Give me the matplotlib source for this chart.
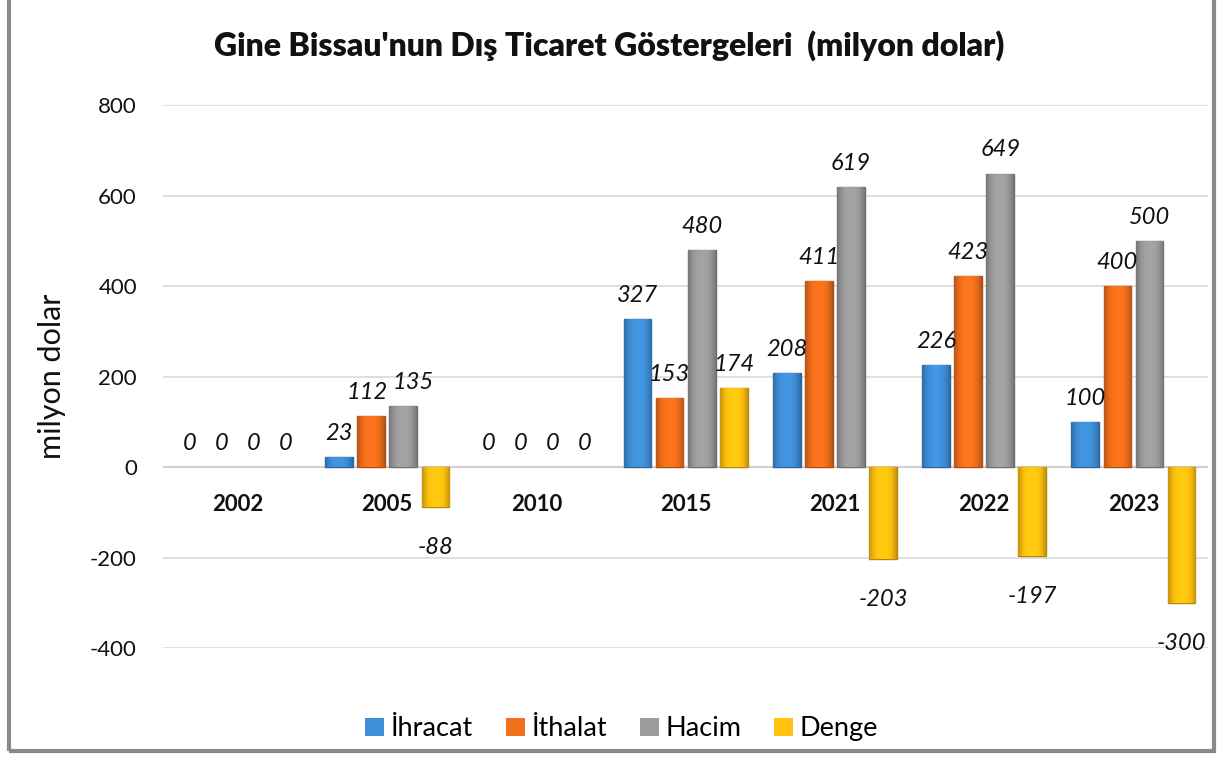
import numpy as np
import matplotlib
matplotlib.use("Agg")
import matplotlib.pyplot as plt
from matplotlib.patches import Rectangle
from matplotlib.colors import to_rgb


YEARS = ["2002", "2005", "2010", "2015", "2021", "2022", "2023"]
IHRACAT = [0, 23, 0, 327, 208, 226, 100]
ITHALAT = [0, 112, 0, 153, 411, 423, 400]
HACIM = [0, 135, 0, 480, 619, 649, 500]
DENGE = [0, -88, 0, 174, -203, -197, -300]

SERIES_NAMES = ["İhracat", "İthalat", "Hacim", "Denge"]
SERIES_COLORS = ["#3f8fd8", "#f26f1c", "#9c9c9c", "#ffc20e"]

TITLE = "Gine Bissau'nun Dış Ticaret Göstergeleri  (milyon dolar)"
FONT = ["Lato", "DejaVu Sans"]

BAR_WIDTH = 0.185
BAR_STEP = 0.215
# the reference pushes a few crowded labels sideways (points)
LABEL_NUDGE = {("İthalat", "2005"): -3, ("Hacim", "2005"): 7}

plt.rcParams["font.family"] = FONT
plt.rcParams["axes.unicode_minus"] = False


def shade(color, factor):
    rgb = np.array(to_rgb(color))
    if factor < 1:
        return tuple(rgb * factor)
    return tuple(rgb + (1 - rgb) * (factor - 1))


def bevel_bar(ax, bar, color):
    """Paint a soft horizontal gradient inside a bar to mimic the bevel look."""
    x0, y0 = bar.get_x(), bar.get_y()
    w, h = bar.get_width(), bar.get_height()
    if h == 0:
        return
    t = np.linspace(-1, 1, 64)
    profile = 1.0 - 0.28 * np.abs(t) ** 2.5
    base = np.array(to_rgb(color))
    img = np.clip(base[None, None, :] * profile[None, :, None] * 1.05, 0, 1)
    ymin, ymax = sorted([y0, y0 + h])
    im = ax.imshow(img, extent=(x0, x0 + w, ymin, ymax), aspect="auto",
                   interpolation="bilinear", zorder=3)
    im.set_clip_path(bar)


fig = plt.figure(figsize=(12.19, 7.57), dpi=100)
ax = fig.add_axes([0.134, 0.144, 0.857, 0.717])

x = np.arange(len(YEARS))
all_series = [IHRACAT, ITHALAT, HACIM, DENGE]

handles = []
for i, (values, color, name) in enumerate(zip(all_series, SERIES_COLORS, SERIES_NAMES)):
    offset = (i - 1.5) * BAR_STEP
    widths = [1.0 if v != 0 else 0.0 for v in values]
    bars = ax.bar(x + offset, values, BAR_WIDTH, color=color,
                  edgecolor=shade(color, 0.7), linewidth=widths, zorder=3, label=name)
    handles.append(bars)
    for bar, v, year in zip(bars, values, YEARS):
        bevel_bar(ax, bar, color)
        cx = bar.get_x() + bar.get_width() / 2
        dy = 17 if v >= 0 else -29
        dx = LABEL_NUDGE.get((name, year), 0)
        ax.annotate(f"{v}", xy=(cx, v), xytext=(dx, dy), textcoords="offset points",
                    ha="center", va="center", fontsize=17, fontstyle="italic",
                    color="#111111", zorder=5)

for xi, year in zip(x, YEARS):
    ax.annotate(year, xy=(xi, 0), xytext=(0, -27), textcoords="offset points",
                ha="center", va="center", fontsize=16, fontweight="bold", color="#111111")

ax.set_xlim(-0.5, len(YEARS) - 0.5)
ax.set_ylim(-400, 800)
ax.set_yticks(np.arange(-400, 801, 200))
ax.tick_params(axis="y", length=0, labelsize=16, pad=19, labelcolor="#111111")
ax.set_xticks([])
ax.grid(axis="y", color="#d9d9d9", linewidth=1.2, zorder=0)
ax.axhline(0, color="#d0d0d0", linewidth=1.5, zorder=2)
for side in ["top", "right", "left", "bottom"]:
    ax.spines[side].set_visible(False)

ax.set_ylabel("milyon dolar", fontsize=22, labelpad=17, color="#111111")
fig.text(0.5, 0.94, TITLE, ha="center", va="center", fontsize=23,
         fontweight="heavy", color="#111111")

fig.legend(handles, SERIES_NAMES, loc="center", bbox_to_anchor=(0.51, 0.037),
           ncol=4, frameon=False, fontsize=19.5, handlelength=0.7, handleheight=0.7,
           handletextpad=0.25, columnspacing=1.2)

fig.patches.append(Rectangle((0.0075, 0.008), 0.9885, 1.1, transform=fig.transFigure,
                             fill=False, edgecolor="#8a8a8a", linewidth=3.0))

fig.savefig("out.png", dpi=100)
